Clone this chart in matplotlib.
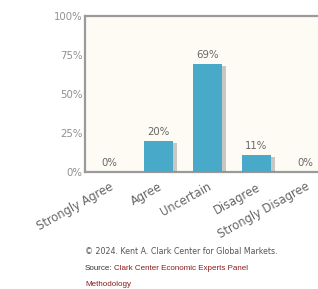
import matplotlib
matplotlib.use("Agg")
import matplotlib.pyplot as plt
import matplotlib.patheffects as pe

# survey answers and share of responses
categories = ["Strongly Agree", "Agree", "Uncertain", "Disagree", "Strongly Disagree"]
shares = [0, 20, 69, 11, 0]
yticks = [0, 25, 50, 75, 100]
ytick_labels = ["0%", "25%", "50%", "75%", "100%"]

fig = plt.figure(figsize=(3.18, 2.89), dpi=100)
fig.patch.set_facecolor("white")

# axes run past the right edge, as in the clipped original
ax = fig.add_axes([0.267, 0.405, 0.77, 0.54])
ax.set_facecolor("#fdfbf4")

x = range(len(categories))
bars = ax.bar(x, shares, width=0.6, color="#48a9c8", zorder=3)
for b in bars:
    b.set_path_effects([pe.SimplePatchShadow(offset=(3, -1.5), shadow_rgbFace="#888888", alpha=0.45),
                        pe.Normal()])

for xi, v in zip(x, shares):
    ax.text(xi, v + 2.5, f"{v}%", ha="center", va="bottom", fontsize=7.3, color="#666666")

ax.set_xlim(-0.5, 4.5)
ax.set_ylim(0, 100)
ax.set_yticks(yticks)
ax.set_yticklabels(ytick_labels, fontsize=7.3, color="#8f8f8f")
ax.set_xticks(list(x))
ax.set_xticklabels(categories, rotation=29, ha="right", rotation_mode="anchor",
                   fontsize=8.3, color="#666666")
ax.tick_params(axis="x", length=0, pad=6)
ax.tick_params(axis="y", length=0, pad=2)

for side in ["left", "top", "bottom", "right"]:
    ax.spines[side].set_color("#9a9a9a")
    ax.spines[side].set_linewidth(1.6)

# footer
fig.text(85 / 318, 1 - 251 / 289, "\u00a9 2024. Kent A. Clark Center for Global Markets.",
         fontsize=5.7, color="#555555", va="center", ha="left")
fig.text(85 / 318, 1 - 268 / 289, "Source:", family="Liberation Sans",
         fontsize=5.8, color="#333333", va="center", ha="left")
fig.text(114 / 318, 1 - 268 / 289, "Clark Center Economic Experts Panel", family="Liberation Sans",
         fontsize=5.8, color="#8b1a1a", va="center", ha="left")
fig.text(85 / 318, 1 - 284 / 289, "Methodology", family="Liberation Sans",
         fontsize=5.8, color="#8b1a1a", va="center", ha="left")

fig.savefig("out.png", dpi=100)
